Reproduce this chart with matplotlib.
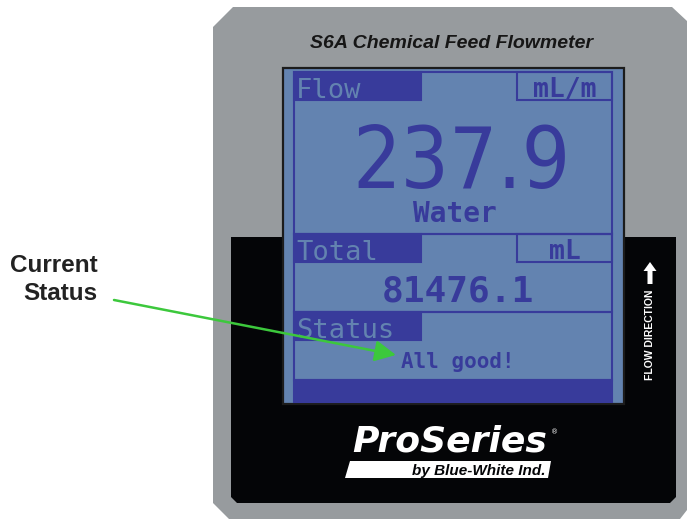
import matplotlib
matplotlib.use('Agg')
import matplotlib.pyplot as plt
from matplotlib.patches import Polygon, Rectangle

# display contents
title = "S6A Chemical Feed Flowmeter"
row_labels = ["Flow", "Total", "Status"]
row_units = ["mL/m", "mL", None]
flow_value = "237.9"
fluid = "Water"
total_value = "81476.1"
status_text = "All good!"
callout = ["Current", "Status"]

GRAY = '#979b9e'
BLACK = '#040507'
LCD = '#6383b0'
LCD_DARK = '#383b9b'
GREEN = '#3cc83c'

fig = plt.figure(figsize=(6.87, 5.19), dpi=100)
ax = fig.add_axes([0, 0, 1, 1])
ax.set_xlim(0, 687)
ax.set_ylim(519, 0)
ax.axis('off')

# meter body
ax.add_patch(Polygon([(213, 27), (233, 7), (672, 7), (687, 21), (687, 510),
                      (680, 519), (229, 519), (213, 503)], closed=True, fc=GRAY, ec='none'))
ax.add_patch(Polygon([(231, 237), (676, 237), (676, 497), (670, 503),
                      (237, 503), (231, 497)], closed=True, fc=BLACK, ec='none'))

ax.text(452, 48, title, ha='center', va='baseline', fontsize=14, fontweight='bold',
        fontstyle='italic', family='Liberation Sans', color='#161616')

# screen
ax.add_patch(Rectangle((283, 68), 341, 336, fc=LCD, ec='#1c1c1c', lw=1.6))
lw = 1.5
# sections
for y0, y1 in [(72, 234), (234, 312), (312, 380)]:
    ax.add_patch(Rectangle((294, y0), 318, y1 - y0, fc='none', ec=LCD_DARK, lw=lw))
ax.add_patch(Rectangle((294, 380), 318, 22, fc=LCD_DARK, ec=LCD_DARK, lw=lw))

mono = 'DejaVu Sans Mono'
tops = [72, 234, 312]
for top, lab, unit in zip(tops, row_labels, row_units):
    ax.add_patch(Rectangle((294, top), 127, 28, fc=LCD_DARK, ec=LCD_DARK, lw=lw))
    ax.text(296, top + 26, lab, ha='left', va='baseline', family=mono, fontsize=19.5, color=LCD)
    if unit:
        ax.add_patch(Rectangle((517, top), 95, 28, fc='none', ec=LCD_DARK, lw=lw))
        ax.text(565, top + 25, unit, ha='center', va='baseline', family=mono,
                fontsize=19, fontweight='bold', color=LCD_DARK)

ax.text(462, 188, flow_value, ha='center', va='baseline', family='DejaVu Sans',
        fontstretch='condensed', fontsize=61, color=LCD_DARK)
ax.text(455, 222, fluid, ha='center', va='baseline', family=mono, fontsize=20,
        fontweight='bold', color=LCD_DARK)
ax.text(458, 302, total_value, ha='center', va='baseline', family=mono, fontsize=26,
        fontweight='bold', color=LCD_DARK)
ax.text(458, 368, status_text, ha='center', va='baseline', family=mono, fontsize=15,
        fontweight='bold', color=LCD_DARK)

# flow direction
ax.arrow(650, 284, 0, -22, width=5, head_width=13, head_length=9,
         length_includes_head=True, fc='white', ec='none')
ax.text(650, 335, "FLOW DIRECTION", rotation=90, ha='center', va='center', fontsize=7.5,
        fontweight='bold', family='Liberation Sans', color='white')

# logo
ax.text(352, 452, "ProSeries", ha='left', va='baseline', family='DejaVu Sans',
        fontsize=26, fontweight='bold', fontstyle='italic', color='white')
ax.text(555, 432, "®", ha='center', va='center', fontsize=5, color='white')
ax.add_patch(Polygon([(350, 461), (551, 461), (548, 478), (345, 478)], closed=True,
                     fc='white', ec='none'))
ax.text(546, 475, "by Blue-White Ind.", ha='right', va='baseline', family='Liberation Sans',
        fontsize=11, fontweight='bold', fontstyle='italic', color=BLACK)

# callout
ax.text(98, 272, callout[0], ha='right', va='baseline', family='Liberation Sans',
        fontsize=17.5, fontweight='bold', color='#222222')
ax.text(97, 300, callout[1], ha='right', va='baseline', family='Liberation Sans',
        fontsize=17.5, fontweight='bold', color='#222222')
ax.annotate('', xy=(396, 355), xytext=(114, 300),
            arrowprops=dict(arrowstyle='-|>,head_length=0.8,head_width=0.4',
                            mutation_scale=16, color=GREEN, lw=1.8, shrinkA=0, shrinkB=0))

fig.savefig('out.png', dpi=100)
